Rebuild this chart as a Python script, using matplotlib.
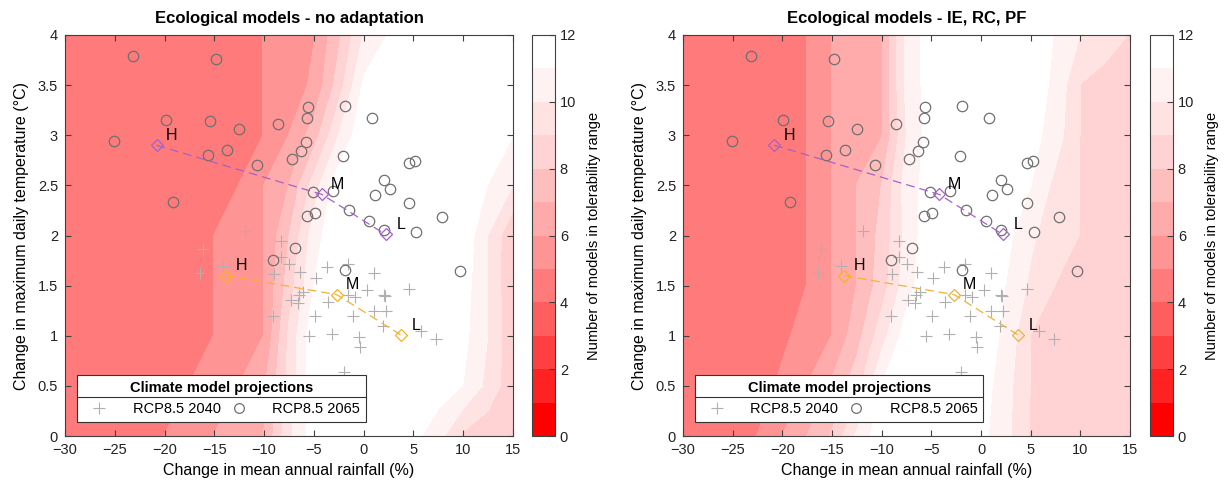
import numpy as np
import matplotlib.pyplot as plt
from matplotlib.colors import ListedColormap
from matplotlib.lines import Line2D

plt.rcParams['font.family'] = ['Liberation Sans', 'DejaVu Sans']

# grid of the tolerability maps
rain_grid = np.arange(-30, 15.1, 2.5)
temp_grid = np.arange(0, 4.01, 0.5)

# number of ecological models in tolerability range (rows = temp_grid, cols = rain_grid)
count_no_adapt = [
    [4.5, 4.5, 4.5, 4.5, 5.02, 5.5, 6.02, 6.5, 7.02, 9.8, 11.5, 11.6, 11.6, 11.5, 11.3, 10.4, 8.8, 8.3, 8.3],
    [4.5, 4.5, 4.5, 4.5, 4.5, 5.02, 5.5, 6.02, 6.9, 9.3, 11.8, 11.6, 11.5, 11.5, 11.5, 11.5, 10.98, 9.7, 8.3],
    [4.5, 4.5, 4.5, 4.5, 4.5, 4.5, 5.02, 5.5, 6.02, 9.2, 11.8, 11.6, 11.5, 11.5, 11.5, 11.5, 11.3, 9.98, 8.2],
    [4.5, 4.5, 4.5, 4.5, 4.5, 4.5, 5.02, 5.5, 6.02, 8.5, 11.02, 11.5, 11.5, 11.5, 11.5, 11.5, 11.5, 9.94, 8.1],
    [4.5, 4.5, 4.5, 4.5, 4.5, 4.5, 5.02, 5.5, 6.02, 8.0, 10.5, 12.0, 11.5, 11.5, 11.5, 11.5, 11.79, 9.98, 8.1],
    [4.5, 4.5, 4.5, 4.5, 4.5, 4.5, 4.5, 5.02, 6.02, 7.02, 9.5, 11.7, 11.5, 11.5, 11.5, 11.5, 11.5, 10.98, 9.98],
    [4.5, 4.5, 4.5, 4.5, 4.5, 4.5, 4.5, 4.6, 5.02, 6.02, 7.5, 10.02, 11.8, 11.5, 11.5, 11.5, 11.5, 11.5, 11.02],
    [4.5, 4.5, 4.5, 4.5, 4.5, 4.5, 4.5, 4.6, 5.02, 5.52, 6.17, 8.5, 11.2, 11.5, 11.5, 11.5, 11.5, 11.5, 11.5],
    [4.5, 4.5, 4.5, 4.5, 4.5, 4.5, 4.5, 4.6, 5.02, 5.48, 5.96, 7.8, 10.1, 11.05, 11.5, 11.5, 11.5, 11.5, 11.5],
]

count_adapt = [
    [4.5, 4.5, 4.5, 5.02, 6.02, 7.02, 8.1, 10.2, 11.7, 11.6, 11.6, 11.6, 11.3, 10.3, 8.9, 8.5, 8.4, 8.4, 8.4],
    [4.5, 4.5, 4.5, 4.6, 5.2, 6.02, 7.2, 8.6, 11.02, 11.6, 11.6, 11.6, 11.5, 10.4, 8.98, 8.5, 8.4, 8.4, 8.4],
    [4.5, 4.5, 4.5, 4.5, 4.8, 5.4, 6.02, 7.6, 9.6, 11.5, 11.6, 11.6, 11.5, 10.8, 8.98, 8.6, 8.5, 8.4, 8.4],
    [4.5, 4.5, 4.5, 4.5, 4.5, 5.02, 6.02, 7.02, 8.5, 10.6, 11.8, 11.6, 11.5, 10.98, 9.8, 8.98, 8.6, 8.5, 8.5],
    [4.5, 4.5, 4.5, 4.5, 4.5, 5.02, 6.02, 7.02, 8.3, 10.3, 11.8, 11.5, 11.5, 11.3, 10.2, 9.4, 8.98, 8.5, 8.5],
    [4.5, 4.5, 4.5, 4.5, 4.5, 5.02, 6.02, 7.02, 8.02, 10.5, 11.5, 11.5, 11.5, 11.5, 11.02, 9.7, 8.98, 8.5, 8.5],
    [4.5, 4.5, 4.5, 4.5, 4.5, 5.02, 6.02, 6.5, 6.95, 10.02, 11.5, 11.5, 11.5, 11.5, 11.4, 10.5, 8.98, 8.5, 8.5],
    [4.5, 4.5, 4.5, 4.5, 4.5, 5.02, 6.02, 6.45, 6.95, 10.3, 11.5, 11.5, 11.5, 11.5, 11.5, 10.8, 8.98, 8.6, 8.6],
    [4.5, 4.5, 4.5, 4.5, 4.5, 5.02, 6.02, 6.45, 6.95, 10.3, 11.5, 11.5, 11.5, 11.5, 11.5, 10.95, 9.98, 9.5, 8.95],
]

panel_titles = ['Ecological models - no adaptation', 'Ecological models - IE, RC, PF']

# climate model projections
rcp2065_rain = [-23.2, -14.8, -5.6, -1.9, -5.7, 0.8, -19.9, -15.4, -12.5, -8.6,
                -25.1, -5.8, -15.6, -13.7, -6.3, -7.2, -2.1, -10.7, 4.6, 5.2,
                2.0, 2.6, -19.2, -5.1, -3.1, 1.1, 4.6, -1.5, 7.9, -5.7,
                -4.9, 0.5, 2.0, 5.3, -6.9, -9.1, -1.9, 9.7]
rcp2065_temp = [3.79, 3.76, 3.28, 3.29, 3.17, 3.17, 3.15, 3.14, 3.06, 3.11,
                2.94, 2.93, 2.80, 2.85, 2.84, 2.76, 2.79, 2.70, 2.72, 2.74,
                2.55, 2.46, 2.33, 2.43, 2.44, 2.40, 2.32, 2.25, 2.18, 2.19,
                2.22, 2.14, 2.05, 2.03, 1.88, 1.76, 1.66, 1.65]

rcp2040_rain = [-11.9, -16.1, -8.3, -8.3, -7.5, -14.1, -16.4, -9.0, -6.4, -3.7,
                -1.6, -4.8, 1.0, 0.3, 4.6, -6.1, -6.5, -7.3, -6.6, -3.6,
                -1.6, -0.9, 2.0, 2.1, 1.0, 2.2, -9.1, -4.9, -1.1, 1.9,
                -5.5, -3.2, -0.5, -0.4, 5.8, 7.3, -2.0]
rcp2040_temp = [2.04, 1.87, 1.95, 1.79, 1.72, 1.70, 1.63, 1.62, 1.64, 1.69,
                1.72, 1.58, 1.63, 1.46, 1.47, 1.44, 1.41, 1.36, 1.33, 1.34,
                1.41, 1.39, 1.41, 1.40, 1.25, 1.25, 1.20, 1.20, 1.20, 1.10,
                1.00, 1.02, 0.99, 0.89, 1.05, 0.97, 0.64]

# high / medium / low change scenarios
hml_labels = ['H', 'M', 'L']
hml2065_rain = [-20.8, -4.2, 2.2]
hml2065_temp = [2.90, 2.41, 2.01]
hml2040_rain = [-13.8, -2.7, 3.7]
hml2040_temp = [1.60, 1.41, 1.01]

levels = np.arange(0, 13)
band_colors = ['#FF0000', '#FF2222', '#FF4040', '#FF5E5E', '#FF7A7A', '#FF9494',
               '#FFABAB', '#FFBEBE', '#FFD3D3', '#FFE3E3', '#FFF2F2', '#FFFFFF']
cmap = ListedColormap(band_colors)

W, H = 1229, 487
fig = plt.figure(figsize=(W / 100, H / 100), dpi=100)

ax_boxes = [(65, 35, 448, 401), (683, 35, 447, 401)]
cb_boxes = [(532, 35, 23, 401), (1150, 35, 23, 401)]

def px_box(b):
    x, y, w, h = b
    return [x / W, (H - y - h) / H, w / W, h / H]

axcol = '#404040'

for i, counts in enumerate([count_no_adapt, count_adapt]):
    ax = fig.add_axes(px_box(ax_boxes[i]))
    cs = ax.contourf(rain_grid, temp_grid, np.array(counts), levels=levels,
                     cmap=cmap, vmin=0, vmax=12, zorder=0)

    ax.plot(rcp2040_rain, rcp2040_temp, linestyle='none', marker='+', ms=8,
            mew=0.8, color='#B0B0B0', zorder=3)
    ax.plot(rcp2065_rain, rcp2065_temp, linestyle='none', marker='o', ms=7.5,
            mew=0.9, mfc='none', mec='#707070', zorder=3)

    for rr, tt, col in [(hml2065_rain, hml2065_temp, '#A462C8'),
                        (hml2040_rain, hml2040_temp, '#F2B232')]:
        ax.plot(rr, tt, linestyle=(0, (7, 4)), lw=0.9, color=col, marker='D',
                ms=6, mfc='none', mec=col, mew=0.9, zorder=4)
        for lab, r, t in zip(hml_labels, rr, tt):
            ax.annotate(lab, (r, t), xytext=(11, 7), textcoords='offset points',
                        ha='center', va='center', fontsize=11.5, zorder=5)

    ax.set_xlim(-30, 15)
    ax.set_ylim(0, 4)
    ax.set_xticks(np.arange(-30, 16, 5))
    ax.set_yticks(np.arange(0, 4.01, 0.5))
    ax.set_yticklabels(['0', '0.5', '1', '1.5', '2', '2.5', '3', '3.5', '4'])
    ax.tick_params(direction='in', top=True, right=True, length=4, width=0.8,
                   color=axcol, labelsize=10.5, labelcolor='#222222', pad=5)
    for sp in ax.spines.values():
        sp.set_color(axcol)
        sp.set_linewidth(0.8)
    ax.set_xlabel('Change in mean annual rainfall (%)', fontsize=11.5, labelpad=4)
    ax.set_ylabel('Change in maximum daily temperature (°C)', fontsize=11.5, labelpad=6)
    ax.set_title(panel_titles[i], fontsize=12, fontweight='bold', pad=9)

    handles = [Line2D([], [], linestyle='none', marker='+', ms=8, mew=0.8, color='#B0B0B0'),
               Line2D([], [], linestyle='none', marker='o', ms=7, mew=0.9, mfc='none', mec='#707070')]
    leg = ax.legend(handles, ['RCP8.5 2040', 'RCP8.5 2065'], ncol=2, loc='lower left',
                    bbox_to_anchor=(0.027, 0.035, 0.645, 0.1), mode='expand',
                    borderaxespad=0, title='Climate model projections',
                    title_fontproperties={'weight': 'bold', 'size': 10.5}, fontsize=10.5,
                    frameon=True, fancybox=False, framealpha=1, edgecolor='#333333',
                    handletextpad=1.2, borderpad=0.4, columnspacing=1.0, handlelength=2.2)
    leg.get_frame().set_linewidth(0.8)
    leg.set_zorder(10)

    cax = fig.add_axes(px_box(cb_boxes[i]))
    cb = fig.colorbar(cs, cax=cax, ticks=np.arange(0, 13, 2))
    cb.outline.set_edgecolor(axcol)
    cb.outline.set_linewidth(0.8)
    cax.tick_params(direction='in', length=4, width=0.8, color=axcol,
                    labelsize=10.5, labelcolor='#222222')
    cb.set_label('Number of models in tolerability range', fontsize=10.5, labelpad=8)

# separator line below the legend titles
fig.canvas.draw()
renderer = fig.canvas.get_renderer()
for ax in fig.axes:
    leg = ax.get_legend()
    if leg is None:
        continue
    lb = leg.get_window_extent(renderer)
    tb = leg._legend_title_box.get_window_extent(renderer)
    y = tb.y0 - 2
    fig.add_artist(Line2D([lb.x0 / W, lb.x1 / W], [y / H, y / H],
                          transform=fig.transFigure, color='#333333', lw=0.8, zorder=20))

fig.savefig('out.png', dpi=100)
